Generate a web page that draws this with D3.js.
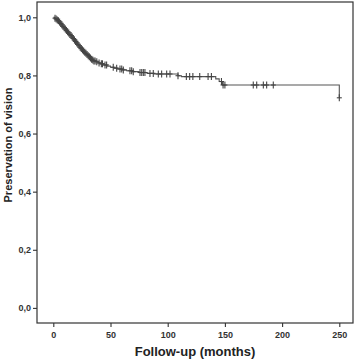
<!DOCTYPE html>
<html><head><meta charset="utf-8">
<script src="https://cdn.jsdelivr.net/npm/d3@7"></script>
<style>body{margin:0;background:#fff}svg{display:block}</style>
</head><body>
<svg id="c" width="356" height="359"></svg>
<script>
// Kaplan–Meier step events: time (months) and survival after the event
const eventTimes = [1,2,3,4,5,6,7,8,9,10,11,12,13,14,15,16,17,18,19,20,21,22,23,24,25,26,27,28,29,30,31,32,33,34,35,37,39,41,44,47,50,53,56,60,64,69,75,82,88,109,112,142,145,148,250];
const survival   = [0.997,0.994,0.991,0.988,0.984,0.979,0.974,0.969,0.964,0.960,0.955,0.950,0.946,0.941,0.937,0.932,0.927,0.922,0.917,0.912,0.907,0.902,0.897,0.893,0.888,0.884,0.880,0.876,0.872,0.868,0.864,0.860,0.856,0.853,0.850,0.847,0.843,0.840,0.836,0.832,0.828,0.825,0.822,0.819,0.816,0.813,0.810,0.807,0.805,0.799,0.796,0.788,0.779,0.767,0.723];
// censored observation times (months)
const censorTimes = [1.5,2.5,3.5,4.5,5.5,6.5,7.5,8.5,9.5,10.5,11.5,12.5,13.5,14.5,15.5,16.5,17.5,18.5,19.5,20.5,21.5,22.5,23.5,24.5,25.5,26.5,27.5,28.5,29.5,30.5,31.5,32.5,33.5,34.5,35.5,36.5,38,40,42,43,45.2,46.6,52.4,55.4,58.3,59.8,61.2,67,68.5,69.9,75.8,77.3,78.7,80.1,84.5,87.4,91.8,94.7,99.1,102,109,116.3,119.2,122,128,135.3,138.2,147,148.4,150,174.8,177.8,183.6,186.5,192.3,250];
const xTicks = [0,50,100,150,200,250];
const yTicks = [0,0.2,0.4,0.6,0.8,1.0];
const xTitle = "Follow-up (months)";
const yTitle = "Preservation of vision";

const svg = d3.select("#c");
const box = {l:37, r:353, t:2, b:323};
const x = d3.scaleLinear().domain([0,250]).range([53.3,339.3]);
const y = d3.scaleLinear().domain([0,1]).range([307.9,17.3]);

function surv(t){
  let s = 1;
  for (let i=0;i<eventTimes.length;i++){ if (eventTimes[i] <= t) s = survival[i]; }
  return s;
}

// step path
const pts = [[0,1]];
eventTimes.forEach((t,i)=>{ pts.push([t, i? survival[i-1]:1]); pts.push([t, survival[i]]); });
const line = d3.line().x(d=>x(d[0])).y(d=>y(d[1]));
svg.append("path").attr("d", line(pts)).attr("fill","none").attr("stroke","#555").attr("stroke-width",1.1);

// censor marks
const cg = svg.append("g").attr("stroke","#444").attr("stroke-width",1.1);
censorTimes.forEach(t=>{
  const cx = x(t), cy = y(surv(t));
  cg.append("line").attr("x1",cx).attr("x2",cx).attr("y1",cy-3.5).attr("y2",cy+3.5);
  cg.append("line").attr("x1",cx-2.5).attr("x2",cx+2.5).attr("y1",cy).attr("y2",cy);
});

// frame
svg.append("rect").attr("x",box.l).attr("y",box.t).attr("width",box.r-box.l).attr("height",box.b-box.t)
  .attr("fill","none").attr("stroke","#333").attr("stroke-width",1.2);

// axes
const fmt = d3.format(".1f");
const yAxis = d3.axisLeft(y).tickValues(yTicks).tickSize(4).tickPadding(2).tickFormat(d=>fmt(d).replace(".",","));
const gy = svg.append("g").attr("transform",`translate(${box.l},0)`).call(yAxis);
gy.select(".domain").remove();
const xAxis = d3.axisBottom(x).tickValues(xTicks).tickSize(4).tickPadding(5);
const gx = svg.append("g").attr("transform",`translate(0,${box.b})`).call(xAxis);
gx.select(".domain").remove();
[gx,gy].forEach(g=>{
  g.selectAll("line").attr("stroke","#333").attr("stroke-width",1.1);
  g.selectAll("text").attr("font-family","Liberation Sans, Arial, sans-serif").attr("font-weight","bold").attr("font-size","9px").attr("fill","#333");
});

svg.append("text").attr("x",(box.l+box.r)/2).attr("y",356).attr("text-anchor","middle")
  .attr("font-family","Liberation Sans, Arial, sans-serif").attr("font-weight","bold").attr("font-size","13px").attr("fill","#222").text(xTitle);
svg.append("text").attr("transform","translate(12,145) rotate(-90)").attr("text-anchor","middle")
  .attr("font-family","Liberation Sans, Arial, sans-serif").attr("font-weight","bold").attr("font-size","11px").attr("fill","#222").text(yTitle);
</script>
</body></html>
